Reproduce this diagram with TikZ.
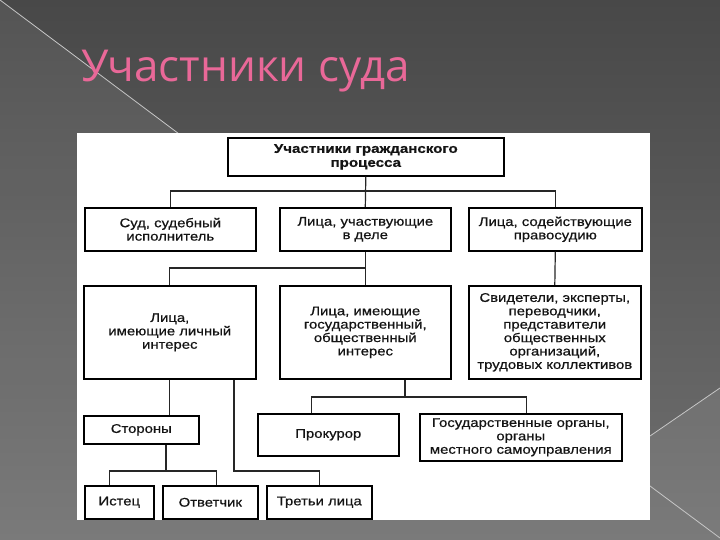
\documentclass[tikz,border=0pt]{standalone}
\usepackage{fontspec}
\newfontfamily\boxfont[FakeStretch=1.18,FakeBold=0.6]{Liberation Sans}
\newfontfamily\titlefont{Open Sans}
\definecolor{titlepink}{RGB}{233,104,152}
\definecolor{bgtop}{RGB}{72,72,72}
\definecolor{bgbot}{RGB}{112,112,112}
\begin{document}
\begin{tikzpicture}[x=1pt,y=-1pt,
  box/.style={draw=black, line width=1.6pt, fill=white, align=center, anchor=north west,
    inner sep=0pt, font=\boxfont\fontsize{12.6}{13.4}\selectfont, text=black!92},
  link/.style={line width=1.2pt, black!85},
  bgline/.style={line width=0.8pt, white!55!gray}]
\useasboundingbox (0,0) rectangle (720,540);
% background
\shade[top color=bgtop, bottom color=bgbot] (0,0) rectangle (720,540);
\fill[white, opacity=0.07] (0,0) -- (615,460) -- (720,538) -- (720,540) -- (0,540) -- cycle;
\fill[white, opacity=0.08] (615,460) -- (720,388) -- (720,538) -- cycle;
\draw[bgline] (0,0) -- (615,460) -- (720,538);
\draw[bgline] (615,460) -- (720,388);
% title
\node[anchor=base west, inner sep=0pt, text=titlepink, font=\titlefont\fontsize{44}{44}\selectfont] (title) at (81,82) {Участники суда};
% panel
\fill[white] (77,133) rectangle (650,520);
% boxes
\node[box, minimum width=276, minimum height=38, font=\boxfont\bfseries\fontsize{12.8}{14}\selectfont] (top) at (227,137) {Участники гражданского\\процесса};
\node[box, minimum width=171, minimum height=43] (sud) at (84,207) {Суд, судебный\\исполнитель};
\node[box, minimum width=171, minimum height=43] (uch) at (279,207) {Лица, участвующие\\в деле};
\node[box, minimum width=173, minimum height=43] (sod) at (468,207) {Лица, содействующие\\правосудию};
\node[box, minimum width=172, minimum height=93] (lich) at (83,285) {Лица,\\имеющие личный\\интерес};
\node[box, minimum width=171, minimum height=93] (gos) at (279,285) {Лица, имеющие\\государственный,\\общественный\\интерес};
\node[box, minimum width=172, minimum height=93] (svid) at (468,285) {Свидетели, эксперты,\\переводчики,\\представители\\общественных\\организаций,\\трудовых коллективов};
\node[box, minimum width=115, minimum height=28] (stor) at (83,415) {Стороны};
\node[box, minimum width=141, minimum height=42] (prok) at (257,413) {Прокурор};
\node[box, minimum width=202, minimum height=47] (org) at (419,413) {Государственные органы,\\органы\\местного самоуправления};
\node[box, minimum width=69, minimum height=33] (ist) at (84,485) {Истец};
\node[box, minimum width=95, minimum height=33] (otv) at (162,485) {Ответчик};
\node[box, minimum width=105, minimum height=33] (tret) at (266,485) {Третьи лица};
% junction points
\coordinate (j1) at (365,191);
\coordinate (j2) at (365,268);
\coordinate (j3) at (234,471);
\coordinate (j4) at (166,471);
\coordinate (j5) at (405,397);
% connectors
\draw[link] (top.south) -- (uch.north);
\draw[link] (sud.north) |- (j1) -| (sod.north);
\draw[link] (uch.south) -- (gos.north);
\draw[link] (lich.north) |- (j2);
\draw[link] (sod.south) -- (svid.north);
\draw[link] (lich.south) -- (lich.south |- stor.north);
\draw[link] (lich.south -| j3) -- (j3) -| (tret.north);
\draw[link] (stor.south -| j4) -- (j4);
\draw[link] ([xshift=-10pt]ist.north) |- (j4) -| ([xshift=6pt]otv.north);
\draw[link] (gos.south -| j5) -- (j5);
\draw[link] ([xshift=-17pt]prok.north) |- (j5) -| ([xshift=6pt]org.north);
\end{tikzpicture}
\end{document}
